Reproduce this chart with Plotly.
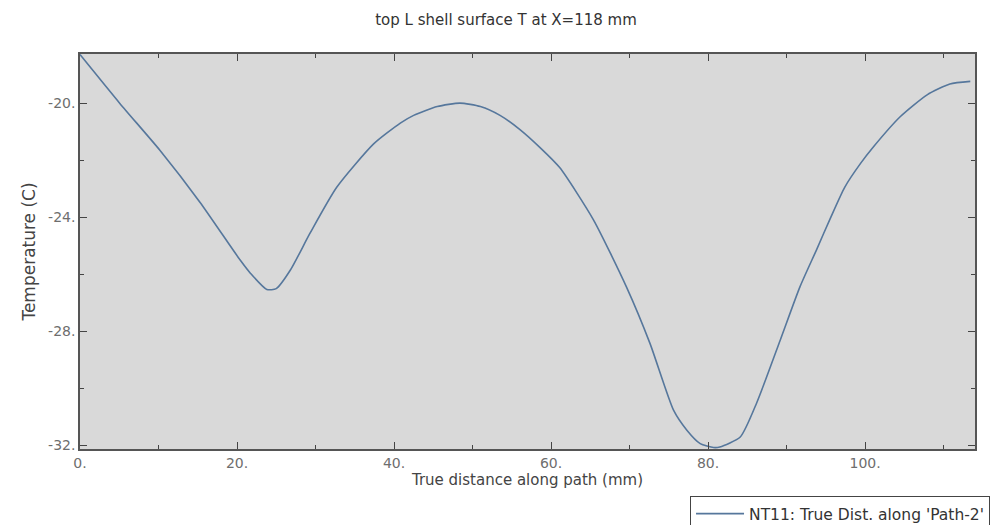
import plotly.graph_objects as go

# Data
distance_mm = [0.0, 5.1, 10.2, 15.3, 20.4, 21.7, 23.8, 25.0, 26.8, 29.3, 32.7, 37.4,
               40.8, 42.5, 45.5, 48.4, 51.0, 53.5, 56.0, 58.6, 61.1, 65.4, 69.6, 72.6,
               75.6, 77.3, 79.0, 80.7, 81.5, 84.1, 86.2, 89.2, 91.7, 93.8, 95.6, 97.4,
               99.4, 101.1, 104.5, 107.9, 110.8, 113.4]
temperature_c = [-18.30, -20.02, -21.66, -23.48, -25.50, -25.96, -26.53, -26.50, -25.85,
                 -24.56, -22.95, -21.43, -20.70, -20.43, -20.12, -20.00, -20.12,
                 -20.43, -20.92, -21.56, -22.26, -24.09, -26.44, -28.42, -30.76, -31.46,
                 -31.93, -32.07, -32.05, -31.70, -30.50, -28.30, -26.44, -25.15,
                 -24.02, -22.95, -22.12, -21.52, -20.47, -19.71, -19.33, -19.24]

x_tick_vals = [0, 20, 40, 60, 80, 100]
x_tick_text = ["0.", "20.", "40.", "60.", "80.", "100."]
y_tick_vals = [-32, -28, -24, -20]
y_tick_text = ["-32.", "-28.", "-24.", "-20."]

series_name = "NT11: True Dist. along 'Path-2'"
title_text = "top L shell surface T at X=118 mm"
x_title = "True distance along path (mm)"
y_title = "Temperature (C)"

FONT = "DejaVu Sans"

fig = go.Figure()
fig.add_trace(go.Scatter(
    x=distance_mm, y=temperature_c, mode="lines", name=series_name,
    line=dict(color="#56779c", width=1.6, shape="spline", smoothing=0.6),
    showlegend=True,
))

axis_common = dict(
    showline=True, linecolor="#555555", linewidth=1.5, mirror="ticks",
    ticks="inside", ticklen=7, tickwidth=1.2, tickcolor="#444444",
    showgrid=False, zeroline=False,
    tickfont=dict(family=FONT, size=14, color="#6e6e6e"),
)

fig.update_xaxes(
    **axis_common,
    range=[0, 114.0],
    tickmode="array", tickvals=x_tick_vals, ticktext=x_tick_text,
    minor=dict(ticks="inside", dtick=10, tick0=0, ticklen=4, tickcolor="#444444"),
    title=dict(text=x_title, font=dict(family=FONT, size=15, color="#444444"), standoff=4),
)
fig.update_yaxes(
    **axis_common,
    range=[-32.12, -18.28],
    tickmode="array", tickvals=y_tick_vals, ticktext=y_tick_text,
    minor=dict(ticks="inside", dtick=2, tick0=-32, ticklen=4, tickcolor="#444444"),
    title=dict(text=y_title, font=dict(family=FONT, size=17, color="#444444"), standoff=8),
)

fig.update_layout(
    width=1004, height=525,
    margin=dict(l=80, r=29, t=54, b=76, autoexpand=False),
    paper_bgcolor="white", plot_bgcolor="#d9d9d9",
    title=dict(text=title_text, x=0.504, xref="container", xanchor="center",
               y=0.962, yref="container", yanchor="middle",
               font=dict(family=FONT, size=15, color="#333333")),
    legend=dict(
        x=0.6816, y=-0.119, xanchor="left", yanchor="top",
        xref="paper", yref="paper", itemwidth=48,
        bgcolor="white", bordercolor="#444444", borderwidth=1,
        font=dict(family=FONT, size=15.5, color="#333333"),
    ),
)

fig.write_html("out.html")
